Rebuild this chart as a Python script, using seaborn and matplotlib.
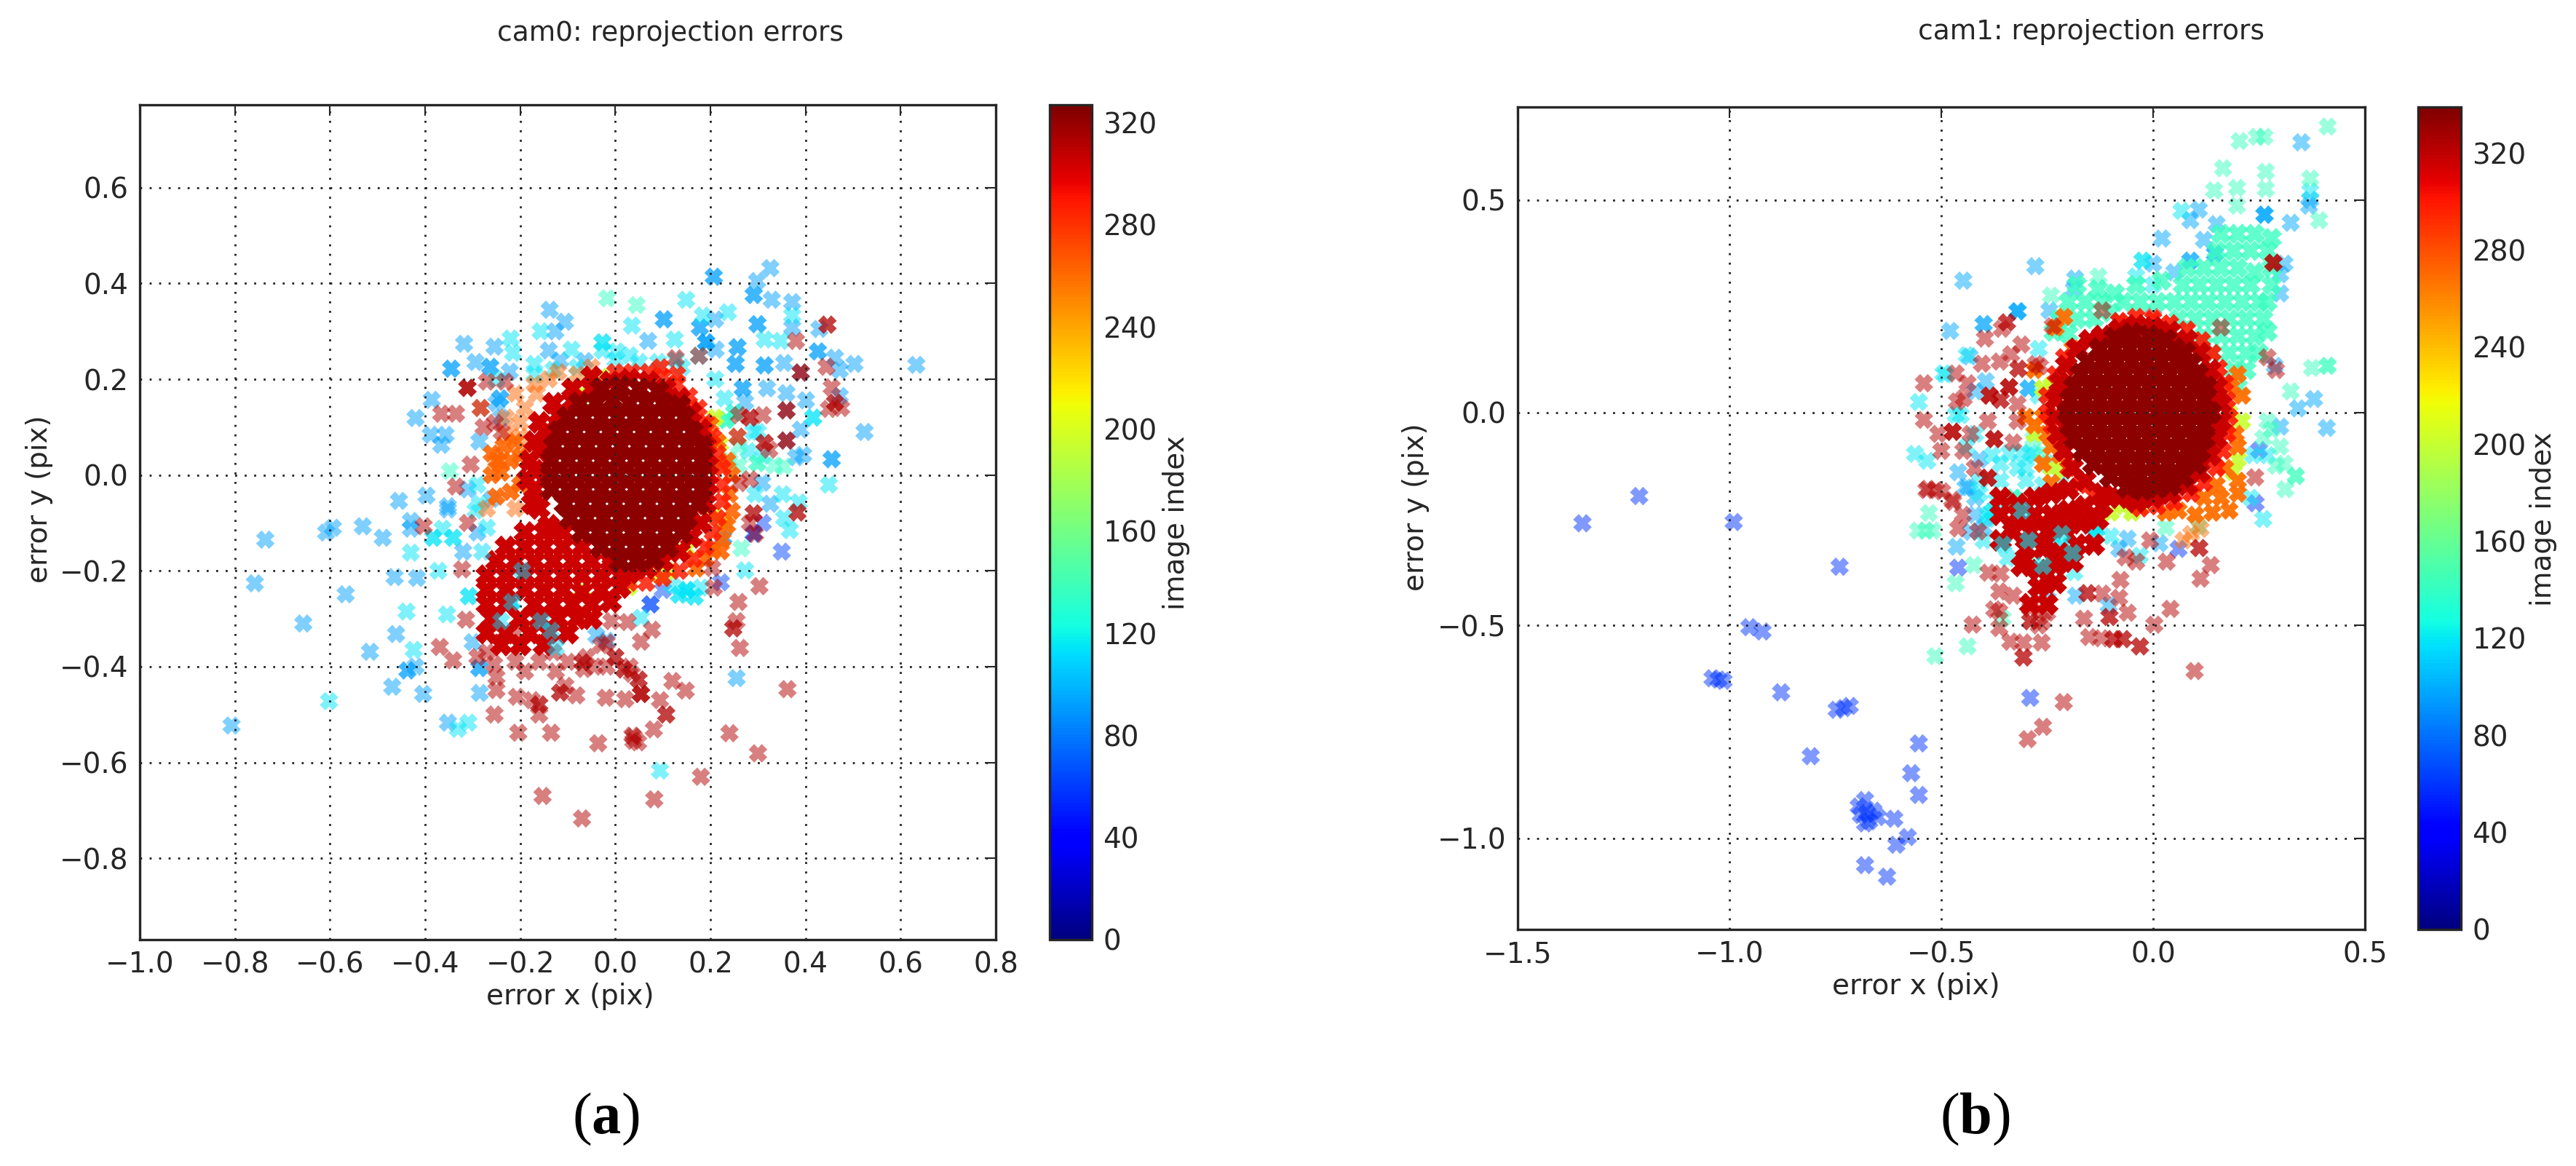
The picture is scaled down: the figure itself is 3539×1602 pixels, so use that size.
import matplotlib
matplotlib.use("Agg")
import matplotlib.pyplot as plt
from matplotlib.cm import ScalarMappable
from matplotlib.colors import Normalize
from matplotlib.path import Path
import pandas as pd
import seaborn as sns

# ---------- cam0 ----------
a_sky = [(-.138,.345),(-.106,.32),(-.126,.30),(-.318,.274),(-.254,.268),(-.14,.26),(-.116,.239),(-.294,.236),
    (-.345,.222),(-.345,.222),(-.263,.226),(-.263,.226),(-.222,.216),(-.064,.238),(-.386,.157),(-.42,.119),
    (-.388,.084),(-.357,.084),(-.366,.063),(-.286,.07),(-.242,.16),(-.242,.16),(-.455,-.054),(-.397,-.043),
    (-.352,-.065),(-.43,-.096),(-.43,-.112),(-.594,-.11),(-.608,-.12),(-.531,-.107),(-.489,-.131),(-.736,-.135),
    (-.352,-.072),(-.758,-.226),(-.464,-.213),(-.417,-.215),(-.567,-.249),(-.656,-.31),(-.461,-.332),(-.516,-.369),
    (-.30,-.349),(-.437,-.408),(-.437,-.408),(-.42,-.40),(-.286,-.403),(-.286,-.403),(-.469,-.442),(-.404,-.457),
    (-.285,-.455),(-.807,-.523),(-.352,-.517),(.326,.432),(.207,.414),(.207,.414),(.298,.405),(.291,.376),(.291,.376),
    (.329,.366),(.372,.361),(.102,.325),(.102,.325),(.21,.325),(.178,.308),(.178,.308),(.299,.315),(.299,.315),
    (.372,.308),(.429,.305),(.069,.28),(.191,.277),(.191,.277),(.191,.277),(.257,.267),(.257,.267),(.426,.258),
    (.426,.258),(.462,.245),(.503,.232),(.633,.23),(.211,.262),(.253,.232),(.253,.232),(.314,.229),(.314,.229),
    (.355,.234),(.39,.214),(.472,.219),(.268,.181),(.268,.181),(.319,.181),(.36,.171),(.401,.156),(.273,.152),
    (.36,.135),(.472,.165),(.524,.09),(.39,.095),(.36,.072),(.395,.042),(.38,.037),(.455,.033),(.455,.033),
    (.309,-.016),(.326,-.06),(.255,-.424),(-.018,-.346),(-.04,-.335),(.227,-.131),(.227,-.131),
    (-.24,.12),(-.25,.15),(-.31,-.03),(-.29,-.12),(-.26,-.05),(-.32,-.16)]
a_cyan = [(.035,.312),(-.157,.30),(-.22,.285),(-.215,.255),(-.027,.277),(-.027,.26),(-.027,.277),(.003,.258),
    (-.17,.232),(-.092,.262),(-.383,-.131),(-.341,-.131),(-.363,-.112),(-.383,-.131),(-.341,-.131),(-.294,-.074),
    (-.43,-.162),(-.372,-.20),(-.439,-.285),(-.354,-.291),(-.308,-.253),(-.308,-.253),(-.219,-.267),(-.219,-.267),
    (-.424,-.365),(-.602,-.472),(-.309,-.517),(-.331,-.53),(.149,.366),(.237,.34),(.184,.333),(.372,.333),(.348,.28),
    (.125,.283),(.416,.12),(.416,.12),(.449,-.02),(.294,-.04),(.352,-.04),(.386,-.057),(.355,-.09),(.367,-.115),
    (.094,-.617),(.054,-.298),(.273,-.199),(.15,-.24),(.15,-.24),(.15,-.24),(.167,-.254),(.134,-.25),(.134,-.25),
    (.167,-.254),(.18,-.235),(.12,-.23),(.314,.283),(.127,.24),(.176,.249),(.05,.236),(.09,.236),(.14,.225),
    (.21,.20),(.23,.16),(.25,.13),(.29,.09),(.28,.05),(.31,.04),(.30,.09),(-.25,.20),(-.17,.21),(-.13,.22),(-.08,.225),
    (.0,.24),(.03,.25),(-.29,-.02),(-.285,-.06),(-.27,-.11)]
a_mint = [(-.017,.369),(.045,.355),(-.348,.008),(.334,.02),(.355,.018),(.299,.025),(.299,.025),(.233,.115),(.233,.115),
    (.233,.115),(.25,.13),(.265,-.153),(.24,.03),(.26,.06),(.26,.02)]
a_violet = [(.074,-.27),(.074,-.27),(.10,-.24),(.35,-.16),(.222,-.224),(.291,-.122),(.291,-.122),(.31,-.10)]
a_green = [(.22,.065),(.21,.12),(.23,-.10),(-.069,-.239),(.028,-.234),(.15,-.155),(.095,-.21),(.11,-.20),(.207,-.083),
    (.205,.02),(-.07,.17),(-.055,.165),(-.03,.205)]
a_orange = [(.235,.03),(.245,.0),(.24,-.04),(.245,-.075),(.235,-.105),(.225,-.135),(.205,-.155),(.19,-.175),(.17,-.195),
    (.215,.07),(.2,.105),(-.22,.03),(-.245,.03),(-.26,.045),(-.235,.06),(-.21,.07),(-.24,.005),(-.2,.04),(-.22,-.035),
    (-.25,-.045),(-.2,-.02),(.222,-.159),(-.25,.03),(-.26,.0)]
a_orange_soft = [(-.17,.19),(-.14,.2),(-.19,.14),(-.2,.11),(-.165,.17),(-.21,.17),(-.12,.215),(-.08,.21),(-.05,.225),
    (-.2,.08),(-.23,.12),(.257,.08),(-.283,.14),(-.23,.085),(-.27,-.07),(-.21,-.07)]
a_red_soft = [(-.311,.182),(-.311,.182),(-.311,.182),(-.366,.128),(-.335,.128),(-.283,.14),(-.253,.109),(-.277,.10),
    (-.239,.09),(-.27,.195),(-.232,.195),(-.304,.022),(-.335,-.024),(-.403,-.107),(-.31,-.10),(-.369,-.359),(-.341,-.387),
    (-.314,-.302),(-.322,-.197),(-.25,-.422),(-.25,-.449),(-.207,-.463),(-.254,-.50),(-.204,-.538),(-.135,-.538),
    (-.16,-.479),(-.16,-.479),(-.175,-.47),(-.16,-.50),(-.116,-.454),(-.116,-.454),(-.105,-.44),(-.082,-.46),(-.02,-.465),
    (.021,-.468),(-.036,-.56),(.038,-.546),(.038,-.555),(-.153,-.67),(-.07,-.717),(.048,-.558),(.036,-.544),(.081,-.531),
    (.107,-.50),(.107,-.50),(.094,-.47),(.054,-.457),(.054,-.457),(.054,-.457),(.049,-.427),(.049,-.427),(.035,-.415),
    (.12,-.43),(.148,-.45),(.018,-.406),(.018,-.406),(.03,-.40),(-.069,-.391),(-.069,-.391),(-.06,-.38),(-.044,-.40),
    (-.018,-.40),(0,-.38),(0,-.38),(-.066,-.405),(.303,-.232),(.259,-.265),(.248,-.32),(.248,-.32),(.255,-.305),
    (.262,-.361),(.24,-.539),(.30,-.581),(.18,-.63),(.082,-.677),(.054,-.348),(.077,-.323),(.026,-.307),(-.008,-.305),
    (-.018,-.35),(.362,-.447),(.446,.314),(.446,.314),(.38,.28),(.39,.214),(.39,.214),(.444,.226),(.455,.183),(.462,.151),
    (.462,.151),(.449,.138),(.475,.14),(.36,.135),(.36,.135),(.36,.072),(.36,.072),(.314,.067),(.314,.067),(.324,.053),
    (.283,.12),(.283,.12),(.26,.125),(.31,.125),(.283,-.009),(.26,-.017),(.383,-.078),(.383,-.078),(.291,-.08),(.291,-.08),
    (.283,-.10),(.294,-.123),(.127,.244),(.176,.249),(.257,.08),(.204,-.194),(.207,-.235),(-.13,-.37),(-.16,-.39),
    (-.21,-.39),(-.19,-.41),(-.125,-.41),(-.10,-.39),(-.03,-.355),(-.21,-.33),(-.29,-.38),(-.27,-.37),(-.255,-.395)]
a_red_fill = [(-.19,-.12),(-.15,-.12),(-.11,-.12),(-.23,-.15),(-.19,-.15),(-.15,-.15),(-.11,-.15),(-.07,-.15),
    (-.25,-.18),(-.21,-.18),(-.17,-.18),(-.13,-.18),(-.09,-.18),(-.05,-.18),(-.01,-.18),
    (-.27,-.21),(-.23,-.21),(-.19,-.21),(-.15,-.21),(-.11,-.21),(-.07,-.21),(-.03,-.21),(.01,-.21),
    (-.27,-.24),(-.23,-.24),(-.19,-.24),(-.15,-.24),(-.11,-.24),(-.07,-.245),(-.03,-.24),(.01,-.235),
    (-.27,-.27),(-.23,-.27),(-.17,-.27),(-.13,-.27),(-.09,-.27),(-.05,-.27),(-.01,-.265),
    (-.26,-.30),(-.2,-.30),(-.16,-.30),(-.12,-.30),(-.08,-.30),(-.05,-.30),
    (-.27,-.33),(-.23,-.33),(-.18,-.33),(-.14,-.33),(-.1,-.33),(-.24,-.355),(-.2,-.355),(-.15,-.355),
    (.03,.20),(-.01,.195),(-.05,.18),(.07,.195),(.105,.18),(.135,.16),(.16,.13),(.18,.095),(.19,.06),(.195,.02),
    (.195,-.02),(.19,-.06),(.18,-.10),(.16,-.13),(.135,-.16),(.10,-.18),(.065,-.195),(.03,-.205),(-.005,-.19),
    (-.09,.155),(-.12,.125),(-.145,.09),(-.16,.05),(-.17,.01),(-.17,-.03),(-.16,-.07),(-.14,-.105),(-.17,.07),(-.18,.03),
    (-.185,-.01),(-.175,-.06),(-.16,.11),(-.13,.15),(-.09,.18),(-.05,.205)]
a_red_bright = [(.035,.215),(.0,.215),(.07,.215),(.10,.205),(.13,.19),(.155,.165),(.175,.14),(.19,.11),(.205,.08),
    (.215,.045),(.225,.015),(.225,-.02),(.225,-.055),(.215,-.09),(.205,-.12),(.19,-.15),(.165,-.175),(.135,-.2),
    (.10,-.215),(.065,-.225),(.03,-.225),(.095,.225),(.13,.21)]
a_mix = [(-.217,-.265),(-.196,-.20),(-.156,-.305),(-.125,-.36),(-.28,-.16),(-.24,-.305),(-.135,-.325)]
a_core = [(-.03,.18),(.01,.185),(.05,.18),(.09,.175),(-.075,.15),(-.04,.15),(-.005,.155),(.03,.15),(.065,.15),(.10,.15),(.135,.145),
    (-.10,.12),(-.065,.12),(-.03,.12),(.005,.12),(.04,.12),(.075,.12),(.11,.12),(.145,.12),
    (-.118,.09),(-.083,.09),(-.048,.09),(-.013,.09),(.022,.09),(.057,.09),(.092,.09),(.127,.09),(.162,.09),
    (-.128,.06),(-.093,.06),(-.058,.06),(-.023,.06),(.012,.06),(.047,.06),(.082,.06),(.117,.06),(.152,.06),(.182,.06),
    (-.134,.03),(-.099,.03),(-.064,.03),(-.029,.03),(.006,.03),(.041,.03),(.076,.03),(.111,.03),(.146,.03),(.181,.03),
    (-.135,0),(-.1,0),(-.065,0),(-.03,0),(.005,0),(.04,0),(.075,0),(.11,0),(.145,0),(.18,0),
    (-.134,-.03),(-.099,-.03),(-.064,-.03),(-.029,-.03),(.006,-.03),(.041,-.03),(.076,-.03),(.111,-.03),(.146,-.03),(.181,-.03),
    (-.105,-.06),(-.07,-.06),(-.035,-.06),(0,-.06),(.035,-.06),(.07,-.06),(.105,-.06),(.14,-.06),(.175,-.06),
    (-.095,-.09),(-.06,-.09),(-.025,-.09),(.01,-.09),(.045,-.09),(.08,-.09),(.115,-.09),(.15,-.09),
    (-.07,-.12),(-.035,-.12),(0,-.12),(.035,-.12),(.07,-.12),(.105,-.12),(.14,-.12),
    (-.03,-.15),(.005,-.15),(.04,-.15),(.075,-.15),(.11,-.15),(.01,-.18),(.045,-.18),(.08,-.175)]

# ---------- cam1 ----------
b_blue = [(-1.347,-.26),(-1.213,-.196),(-.99,-.257),(-.74,-.362),(-.953,-.504),(-.922,-.514),(-1.04,-.624),(-1.014,-.63),
    (-1.026,-.627),(-.878,-.657),(-.747,-.698),(-.716,-.689),(-.73,-.694),(-.808,-.807),(-.553,-.777),(-.571,-.847),(-.553,-.898),
    (-.68,-.91),(-.66,-.935),(-.69,-.945),(-.67,-.96),(-.695,-.925),(-.65,-.95),(-.675,-.94),(-.68,-.965),(-.611,-.954),
    (-.579,-.997),(-.606,-1.015),(-.68,-1.063),(-.628,-1.09),(-.46,-.364),(-.29,-.67),(.242,-.213),(.25,-.088),(.06,-.32)]
b_sky = [(.35,.635),(.371,.50),(.368,.486),(.263,.465),(.263,.465),(.263,.465),(.108,.477),(.088,.452),(.325,.446),(.15,.443),
    (.12,.406),(.021,.409),(.146,.373),(.146,.373),(.088,.357),(.088,.357),(.30,.325),(.30,.28),(.31,.35),(-.278,.344),(-.448,.31),
    (-.184,.315),(-.187,.29),(-.32,.238),(-.32,.238),(-.245,.24),(-.40,.208),(-.40,.208),(-.479,.192),(-.433,.132),(-.32,.238),
    (-.46,-.14),(-.436,-.175),(.287,.11),(.38,.032),(.342,.01),(.41,-.036),(.30,-.033),(-.464,-.315),(-.443,-.176),(-.42,-.20),
    (-.395,.074),(-.294,.057),(-.294,.057),(-.105,-.453),(-.249,-.42),(-.182,-.43),(.015,-.307),(-.08,-.32),(-.06,-.296),
    (-.42,.05),(-.41,-.11),(-.42,-.24),(-.40,-.27),(-.43,-.28),(.0,.35),(.05,.33)]
b_cyan = [(.371,.52),(-.025,.357),(-.025,.357),(-.04,.32),(.0,.30),(-.495,.092),(-.553,.025),(-.454,-.006),(-.562,-.097),
    (-.533,-.113),(-.49,.09),(-.466,-.005),(-.44,.135),(-.34,-.095),(-.31,-.095),(-.29,-.095),(-.32,-.13),(-.30,-.13),(-.37,-.205),
    (-.39,-.24),(-.38,-.233),(-.38,-.233),(-.33,-.20),(-.39,-.25),(-.134,-.274),(-.134,-.274),(-.10,-.29),(-.215,-.313),(-.215,-.313),
    (-.139,-.285),(-.139,-.285),(.236,-.10),(.27,-.10),(-.343,-.342),(-.186,-.375),(-.031,-.336),(.067,.474),(-.40,-.30),(-.41,-.16),
    (-.41,-.19),(-.26,-.17),(-.30,-.16),(-.25,-.12),(-.28,-.10),(-.22,-.15),(-.36,-.16),(-.42,-.05),(-.36,-.12),(-.27,.04),(-.27,.15),
    (-.44,-.08),(-.38,-.10),(.23,-.20),(.26,-.25)]
b_mint = [(.412,.672),(.263,.648),(.245,.648),(.204,.638),(.165,.574),(.266,.566),(.266,.525),(.144,.522),(.198,.528),(.371,.55),
    (.198,.486),(.392,.452),(-.129,.32),(-.241,.275),(.375,.105),(.412,.11),(.412,.11),(.325,.05),(.337,-.149),(.337,-.149),(.312,-.18),
    (.29,-.125),(.30,-.08),(.28,-.04),(-.529,-.236),(-.555,-.277),(-.52,-.277),(-.536,-.277),(-.466,-.401),(-.423,-.358),(-.438,-.549),
    (-.514,-.572),(-.355,-.483),(-.294,-.353),(-.33,-.2),(.107,-.267),(-.283,-.062),(-.26,-.094),(-.328,-.2),(.03,-.27),(.27,-.02),
    (.26,-.06),(.31,-.12)]
b_mint_dense = [(.16,.42),(.2,.42),(.24,.42),(.28,.41),(.15,.38),(.19,.38),(.23,.38),(.27,.38),(.08,.34),(.12,.34),(.16,.34),(.2,.34),(.24,.33),(.07,.30),
    (.11,.30),(.15,.30),(.19,.30),(.23,.30),(-.07,.26),(-.03,.26),(.01,.26),(.05,.26),(.09,.26),(.13,.26),(.17,.26),(.21,.26),(.25,.26),
    (-.22,.22),(-.18,.22),(-.14,.22),(-.10,.235),(.06,.22),(.10,.22),(.14,.22),(.18,.22),(.22,.22),(.26,.22),(.12,.18),(.16,.18),(.2,.18),(.24,.18),
    (.27,.19),(.14,.14),(.18,.14),(.22,.14),(.25,.14),(.19,.10),(.22,.10),(.2,.06),(-.18,.30),(-.13,.29),(-.09,.28),(-.04,.30),(.02,.31),(-.2,.26),(-.16,.26),
    (-.12,.26),(.28,.30),(.27,.26),(.28,.34),(-.20,.185),(-.235,.19)]
b_green = [(-.26,.057),(-.24,.065),(.18,.0),(.21,-.02),(.19,-.14),(.20,-.11),(-.24,-.13),(-.21,-.135),(-.10,-.235),(-.07,-.22),(-.05,-.235),(-.03,-.22),
    (-.28,-.05),(-.04,-.21)]
b_orange = [(.185,.06),(.20,.09),(.21,.04),(.195,-.05),(.2,-.08),(.17,-.13),(.15,-.17),(.12,-.2),(.16,-.2),(.2,-.16),(.2,-.19),(.18,-.23),(.14,-.235),
    (.1,-.24),(.06,-.23),(.03,-.235),(-.26,-.01),(-.28,-.03),(-.25,-.05),(-.24,-.08),(-.26,-.12),(-.22,-.1),(-.3,-.01),(-.24,-.165),(-.28,.10),(-.23,.2),
    (-.21,.225),(-.19,.15)]
b_salmon = [(.072,-.30),(.112,-.273),(.09,-.285)]
b_red_soft = [(-.532,-.179),(-.498,-.185),(-.474,-.205),(-.426,-.498),(-.363,-.506),(-.363,-.467),(-.337,-.538),(-.306,-.575),(-.306,-.575),(-.306,-.54),
    (-.263,-.54),(-.29,-.49),(-.29,-.49),(-.27,-.50),(-.26,-.49),(-.25,-.47),(-.163,-.484),(-.151,-.527),(-.122,-.53),(-.094,-.532),(-.094,-.532),(-.071,-.532),
    (-.071,-.532),(-.031,-.549),(-.031,-.549),(.003,-.498),(.041,-.461),(-.103,-.48),(-.103,-.48),(-.06,-.47),(-.08,-.435),(.098,-.607),(-.211,-.68),(-.26,-.738),
    (-.296,-.767),(-.077,-.393),(-.12,-.425),(-.155,-.424),(-.155,-.424),(.112,-.39),(.109,-.318),(.109,-.318),(.136,-.358),(.032,-.35),(-.389,-.376),(-.36,-.378),
    (-.363,-.42),(-.375,-.462),(-.237,.203),(-.397,.174),(-.345,.212),(-.345,.212),(-.357,.197),(-.311,.16),(-.404,.115),(-.335,.137),(-.318,.103),(-.318,.103),
    (-.362,.12),(-.277,.114),(-.267,.109),(-.466,.092),(-.438,.069),(-.447,.034),(-.463,.026),(-.386,.04),(-.386,.04),(-.386,.04),(-.34,.06),(-.34,.06),(-.34,.06),
    (-.36,.03),(-.36,.03),(-.32,.02),(-.541,.069),(-.541,-.017),(-.473,-.045),(-.473,-.045),(-.473,-.045),(-.507,-.05),(-.431,-.05),(-.5,-.09),(-.375,-.062),(-.375,-.062),
    (-.375,-.062),(-.448,-.09),(-.39,-.153),(-.39,-.153),(-.39,-.153),(-.421,-.13),(-.512,-.182),(-.535,-.182),(-.472,-.21),(-.449,-.24),(-.46,-.272),(-.413,-.279),
    (.284,.352),(.284,.352),(.284,.352),(-.065,-.34),(.241,-.152),(-.007,-.30),(-.04,-.35),(-.29,-.46),(-.33,-.43),(.16,.2),(-.12,.24),(-.08,.215),(0,.225),(.27,.13),(.29,.1),
    (-.32,-.02),(-.39,-.02),(-.33,-.07)]
b_red_fill = [(-.36,-.20),(-.32,-.215),(-.28,-.20),(-.24,-.19),(-.2,-.18),(-.36,-.24),(-.32,-.24),(-.28,-.24),(-.24,-.24),(-.2,-.23),(-.16,-.22),(-.12,-.22),
    (-.33,-.28),(-.29,-.28),(-.25,-.28),(-.21,-.27),(-.17,-.26),(-.13,-.25),(-.30,-.32),(-.26,-.32),(-.22,-.33),(-.18,-.31),(-.14,-.31),(-.31,-.36),(-.27,-.37),
    (-.23,-.36),(-.19,-.35),(-.27,-.41),(-.23,-.40),(-.29,-.45),(-.25,-.45),(-.36,-.30),
    (-.04,.205),(-.08,.195),(-.12,.18),(0,.20),(.04,.19),(.08,.17),(.11,.14),(.135,.10),(.15,.06),(.16,.02),(.16,-.02),(.15,-.06),(.135,-.10),(.11,-.14),(.08,-.17),
    (.04,-.19),(0,-.2),(-.04,-.21),(-.08,-.2),(-.12,-.19),(-.16,-.16),(-.19,-.13),(-.21,-.09),(-.225,-.05),(-.23,-.01),(-.23,.03),(-.22,.07),(-.205,.11),(-.18,.15),(-.15,.17)]
b_red_bright = [(-.04,.225),(-.08,.215),(.0,.22),(.04,.21),(.08,.195),(.115,.17),(.14,.14),(.155,.105),(.17,.07),(.175,.03),(.18,-.01),(.175,-.05),(.165,-.09),(.15,-.13),
    (.12,-.165),(.09,-.19),(.05,-.21),(.01,-.22),(-.03,-.225),(-.25,.0),(-.25,.04),(-.24,-.03),(-.23,.09),(-.21,.13),(-.2,-.13),(-.175,-.17),(-.14,-.195)]
b_mix = [(-.354,-.31),(-.294,-.30),(-.215,-.285),(-.26,-.36),(-.31,-.23),(-.19,-.33)]
b_core = [(-.09,.175),(-.05,.185),(-.01,.18),(.03,.17),(-.125,.15),(-.09,.15),(-.055,.15),(-.02,.15),(.015,.15),(.05,.15),(.075,.14),
    (-.155,.12),(-.12,.12),(-.085,.12),(-.05,.12),(-.015,.12),(.02,.12),(.055,.12),(.09,.115),
    (-.17,.09),(-.135,.09),(-.1,.09),(-.065,.09),(-.03,.09),(.005,.09),(.04,.09),(.075,.09),(.105,.09),
    (-.185,.06),(-.15,.06),(-.115,.06),(-.08,.06),(-.045,.06),(-.01,.06),(.025,.06),(.06,.06),(.095,.06),(.125,.06),
    (-.195,.03),(-.16,.03),(-.125,.03),(-.09,.03),(-.055,.03),(-.02,.03),(.015,.03),(.05,.03),(.085,.03),(.12,.03),
    (-.2,0),(-.165,0),(-.13,0),(-.095,0),(-.06,0),(-.025,0),(.01,0),(.045,0),(.08,0),(.115,0),(.135,0),
    (-.195,-.03),(-.16,-.03),(-.125,-.03),(-.09,-.03),(-.055,-.03),(-.02,-.03),(.015,-.03),(.05,-.03),(.085,-.03),(.12,-.03),
    (-.185,-.06),(-.15,-.06),(-.115,-.06),(-.08,-.06),(-.045,-.06),(-.01,-.06),(.025,-.06),(.06,-.06),(.095,-.06),(.12,-.06),
    (-.165,-.09),(-.13,-.09),(-.095,-.09),(-.06,-.09),(-.025,-.09),(.01,-.09),(.045,-.09),(.08,-.09),(.11,-.09),
    (-.14,-.12),(-.105,-.12),(-.07,-.12),(-.035,-.12),(0,-.12),(.035,-.12),(.07,-.12),(.1,-.12),
    (-.1,-.15),(-.065,-.15),(-.03,-.15),(.005,-.15),(.04,-.15),(.07,-.15),(-.06,-.175),(-.025,-.18),(.01,-.175),(.04,-.17)]

ticks_a_x = [-1.0, -0.8, -0.6, -0.4, -0.2, 0.0, 0.2, 0.4, 0.6, 0.8]
ticks_a_y = [-0.8, -0.6, -0.4, -0.2, 0.0, 0.2, 0.4, 0.6]
ticks_b_x = [-1.5, -1.0, -0.5, 0.0, 0.5]
ticks_b_y = [-1.0, -0.5, 0.0, 0.5]
ticks_cb = [0, 40, 80, 120, 160, 200, 240, 280, 320]

W, H = 3539, 1602
FS = 28
INK = "#262626"
JET = plt.get_cmap("jet")
# stout cross with shallow notches, the stock "X" is too thin
FAT_X = Path([(-.5,-.2),(-.2,-.5),(0,-.28),(.2,-.5),(.5,-.2),(.28,0),(.5,.2),(.2,.5),(0,.28),(-.2,.5),(-.5,.2),(-.28,0),(-.5,-.2)], closed=True)

sns.set_style("white")
plt.rcParams["font.family"] = ["DejaVu Sans"]
plt.rcParams["mathtext.fontset"] = "custom"
plt.rcParams["mathtext.rm"] = "Liberation Serif"
plt.rcParams["mathtext.bf"] = "Liberation Serif:bold"

fig = plt.figure(figsize=(W / 100, H / 100), dpi=100)


def box(left, top, right, bottom):
    return [left / W, 1 - bottom / H, (right - left) / W, (bottom - top) / H]


def put(ax, pts, idx, vmax, alpha=0.5, size=340):
    df = pd.DataFrame(pts, columns=["x", "y"])
    df["idx"] = idx
    sns.scatterplot(data=df, x="x", y="y", hue="idx", hue_norm=(0, vmax), palette=JET, marker=FAT_X,
                    s=size, alpha=alpha, linewidth=0, legend=False, ax=ax, zorder=2)


def panel(rect, xlim, ylim, xticks, yticks):
    ax = fig.add_axes(box(*rect))
    ax.set_xlim(*xlim)
    ax.set_ylim(*ylim)
    ax.set_xticks(xticks)
    ax.set_yticks(yticks)
    ax.set_xticklabels([f"{t:.1f}".replace("-", "\u2212") for t in xticks])
    ax.set_yticklabels([f"{t:.1f}".replace("-", "\u2212") for t in yticks])
    ax.tick_params(direction="in", length=11, width=1.5, labelsize=FS, colors=INK, top=True, right=True, pad=11)
    ax.grid(True, color="#222222", lw=2, ls=(0, (1, 3.7)))
    ax.set_axisbelow(False)
    for s in ax.spines.values():
        s.set_linewidth(2.4)
        s.set_color(INK)
    return ax


def bar(rect, vmax):
    cax = fig.add_axes(box(*rect))
    cb = fig.colorbar(ScalarMappable(Normalize(0, vmax), JET), cax=cax, ticks=ticks_cb)
    cax.tick_params(direction="in", length=13, width=1.5, labelsize=FS, colors=INK, pad=11)
    cb.outline.set_linewidth(2.4)
    cb.outline.set_edgecolor(INK)


# cam0
ax = panel((192, 144, 1368, 1291), (-1.0, 0.8), (-0.97, 0.773), ticks_a_x, ticks_a_y)
V = 327
put(ax, a_violet, 65, V)
put(ax, a_sky, 92, V)
put(ax, a_cyan, 114, V)
put(ax, a_mint, 135, V)
put(ax, a_green, 195, V, 0.9)
put(ax, a_orange_soft, 262, V)
put(ax, a_orange, 262, V, 0.9)
put(ax, a_red_soft, 312, V)
put(ax, a_red_bright, 288, V, 0.85)
put(ax, a_red_fill, 305, V, 1.0, 520)
put(ax, a_mix, 112, V, 0.5)
put(ax, a_core, 323, V, 1.0, 560)
ax.set_xlim(-1.0, 0.8)
ax.set_ylim(-0.97, 0.773)
ax.set_xlabel("")
ax.set_ylabel("")
bar((1442, 144, 1500, 1291), V)

# cam1
ax = panel((2085, 147, 3249, 1277), (-1.5, 0.5), (-1.214, 0.718), ticks_b_x, ticks_b_y)
V = 339
put(ax, b_blue, 60, V)
put(ax, b_sky, 98, V)
put(ax, b_cyan, 120, V)
put(ax, b_mint, 142, V)
put(ax, b_mint_dense, 143, V, 0.8, 420)
put(ax, b_green, 200, V, 0.9)
put(ax, b_orange, 268, V, 0.95)
put(ax, b_salmon, 270, V)
put(ax, b_red_soft, 322, V)
put(ax, b_red_bright, 300, V, 0.9)
put(ax, b_red_fill, 317, V, 1.0, 520)
put(ax, b_mix, 120, V, 0.6)
put(ax, b_core, 335, V, 1.0, 560)
ax.set_xlim(-1.5, 0.5)
ax.set_ylim(-1.214, 0.718)
ax.set_xlabel("")
ax.set_ylabel("")
bar((3322, 147, 3381, 1277), V)


# figure text placed where the reference has it
def label(x, y, s, **kw):
    kw.setdefault("fontsize", FS)
    kw.setdefault("color", INK)
    fig.text(x / W, 1 - y / H, s, ha="center", va="center", **kw)


label(921, 46, "cam0: reprojection errors", fontsize=27)
label(2873, 44, "cam1: reprojection errors", fontsize=27)
label(783, 1369, "error x (pix)")
label(2632, 1355, "error x (pix)")
label(54, 686, "error y (pix)", rotation=90)
label(1945, 697, "error y (pix)", rotation=90)
label(1616, 718, "image index", rotation=90)
label(3494, 713, "image index", rotation=90)
label(832, 1537, r"$(\mathbf{a})$", fontsize=58, color="black")
label(2713, 1537, r"$(\mathbf{b})$", fontsize=58, color="black")

fig.savefig("out.png", dpi=100)
